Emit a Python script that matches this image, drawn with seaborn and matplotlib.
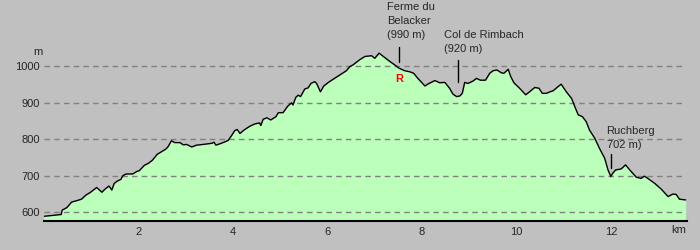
import matplotlib
matplotlib.use("Agg")
import matplotlib.pyplot as plt
import seaborn as sns
import pandas as pd

km = [0.0, 0.15, 0.37, 0.39, 0.49, 0.59, 0.70, 0.80, 0.89, 0.98, 1.05, 1.12, 1.23, 1.30,
      1.38, 1.44, 1.49, 1.56, 1.63, 1.67, 1.74, 1.88, 1.97, 2.02, 2.13, 2.21, 2.30, 2.40,
      2.49, 2.58, 2.63, 2.70, 2.77, 2.88, 2.95, 3.02, 3.13, 3.23, 3.37, 3.55, 3.60, 3.64,
      3.73, 3.83, 3.90, 3.97, 4.04, 4.09, 4.15, 4.23, 4.36, 4.46, 4.56, 4.59, 4.64, 4.72,
      4.80, 4.91, 4.96, 5.06, 5.16, 5.24, 5.27, 5.33, 5.38, 5.43, 5.52, 5.59, 5.65, 5.73,
      5.77, 5.85, 5.92, 6.03, 6.15, 6.26, 6.40, 6.47, 6.54, 6.68, 6.79, 6.93, 7.00, 7.09,
      7.18, 7.32, 7.42, 7.51, 7.63, 7.74, 7.82, 7.91, 8.06, 8.13, 8.27, 8.37, 8.48, 8.58,
      8.65, 8.73, 8.80, 8.85, 8.90, 8.97, 9.08, 9.15, 9.23, 9.34, 9.43, 9.50, 9.58, 9.68,
      9.73, 9.82, 9.87, 9.94, 10.06, 10.19, 10.27, 10.38, 10.47, 10.54, 10.63, 10.70, 10.77,
      10.87, 10.94, 11.05, 11.16, 11.23, 11.30, 11.39, 11.47, 11.54, 11.65, 11.75, 11.86,
      11.93, 11.99, 12.03, 12.09, 12.21, 12.30, 12.39, 12.53, 12.63, 12.70, 12.77, 12.92,
      13.06, 13.20, 13.30, 13.37, 13.44, 13.57]
elev = [589, 591, 594, 606, 613, 628, 632, 636, 647, 654, 661, 668, 655, 664,
        672, 661, 679, 686, 690, 700, 705, 705, 712, 714, 729, 734, 743, 759,
        766, 773, 780, 796, 791, 791, 785, 786, 779, 784, 786, 789, 792, 784,
        788, 793, 797, 810, 824, 827, 816, 825, 836, 842, 845, 838, 855, 859,
        853, 862, 873, 873, 891, 900, 894, 915, 921, 917, 938, 941, 953, 958,
        953, 930, 946, 957, 967, 976, 988, 999, 1004, 1018, 1027, 1029, 1022, 1036,
        1027, 1013, 1004, 995, 988, 985, 981, 967, 946, 952, 961, 955, 956, 940,
        924, 917, 919, 926, 956, 953, 960, 967, 962, 962, 981, 988, 990, 982,
        981, 992, 973, 955, 940, 922, 930, 942, 940, 926, 926, 930, 933,
        944, 951, 930, 912, 889, 867, 862, 848, 825, 803, 775, 748,
        716, 698, 707, 716, 719, 730, 716, 696, 693, 699, 693, 679,
        663, 643, 650, 649, 636, 634]

y_ticks = [600, 700, 800, 900, 1000]
x_ticks = [2, 4, 6, 8, 10, 12]

# waypoints: label lines, km position, elevation of marker
wp_lines = [["Ferme du", "Belacker", "(990 m)"], ["Col de Rimbach", "(920 m)"], ["Ruchberg", "702 m)"]]
wp_km = [7.52, 8.75, 12.0]

df = pd.DataFrame({"km": km, "elev": elev})

sns.set_style("white", {"axes.facecolor": "#c0c0c0", "figure.facecolor": "#c0c0c0"})
plt.rcParams["font.family"] = ["Liberation Sans", "DejaVu Sans"]

fig = plt.figure(figsize=(7, 2.5), dpi=100)
fig.patch.set_facecolor("#c0c0c0")
W, H = 700, 250
x0, x1, ybot = 43.7, 687.0, 221.0
ax = fig.add_axes([x0 / W, 1 - ybot / H, (x1 - x0) / W, ybot / H])
ax.set_facecolor("#c0c0c0")

ymin, ymax = 576.2, 1181.7
ax.set_xlim(0, 13.6)
ax.set_ylim(ymin, ymax)

ax.fill_between(df["km"], ymin, df["elev"], color="#bbffbb", zorder=1, linewidth=0)
for yt in y_ticks:
    ax.plot([0, 13.52], [yt, yt], color="#808080", linestyle=(0, (4, 3)), linewidth=1, zorder=2)
sns.lineplot(data=df, x="km", y="elev", ax=ax, color="black", linewidth=1.0, zorder=3)

for s in ["top", "right", "left"]:
    ax.spines[s].set_visible(False)
ax.spines["bottom"].set_color("black")
ax.spines["bottom"].set_linewidth(1.5)

ax.set_xticks(x_ticks)
ax.set_xticklabels([str(t) for t in x_ticks])
ax.set_yticks(y_ticks)
ax.set_yticklabels([str(t) for t in y_ticks])
ax.tick_params(axis="y", length=0, pad=3, labelsize=8)
ax.tick_params(axis="x", length=2, pad=2, labelsize=8, color="#808080")
ax.set_xlabel("")
ax.set_ylabel("")

fs = 8
ax.text(-0.13, 1039, "m", ha="center", va="center", fontsize=fs, clip_on=False)
ax.text(13.43, 552, "km", ha="center", va="center", fontsize=fs, clip_on=False)

# waypoint labels
ax.text(7.25, 1162.5, wp_lines[0][0], ha="left", va="center", fontsize=fs)
ax.text(7.25, 1124, wp_lines[0][1], ha="left", va="center", fontsize=fs)
ax.text(7.25, 1086, wp_lines[0][2], ha="left", va="center", fontsize=fs)
ax.plot([wp_km[0], wp_km[0]], [1054, 1011], color="black", linewidth=1, zorder=4)

ax.text(8.46, 1086, wp_lines[1][0], ha="left", va="center", fontsize=fs)
ax.text(8.46, 1047.5, wp_lines[1][1], ha="left", va="center", fontsize=fs)
ax.plot([wp_km[1], wp_km[1]], [1017, 956], color="black", linewidth=1, zorder=4)

ax.text(11.90, 823, wp_lines[2][0], ha="left", va="center", fontsize=fs)
ax.text(11.90, 784.5, wp_lines[2][1], ha="left", va="center", fontsize=fs)
ax.plot([wp_km[2], wp_km[2]], [760, 721], color="black", linewidth=1, zorder=4)

ax.text(7.51, 965, "R", ha="center", va="center", fontsize=8, color="red", fontweight="bold", zorder=5)

fig.savefig("out.png", dpi=100, facecolor=fig.get_facecolor())
